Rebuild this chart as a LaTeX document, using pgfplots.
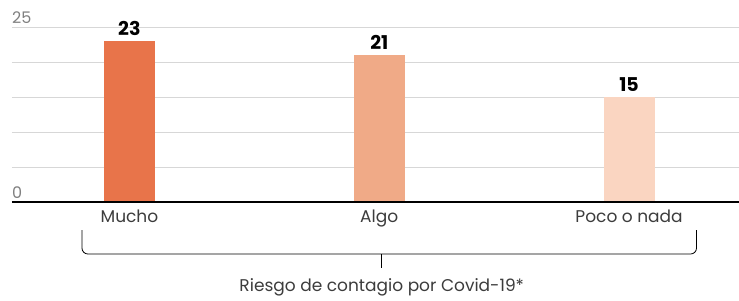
\documentclass[border=0pt]{standalone}
\usepackage{pgfplots}
\pgfplotsset{compat=1.18}
\usepackage{fontspec}
\setmainfont{Poppins}
\definecolor{c1}{RGB}{232,116,74}
\definecolor{c2}{RGB}{240,170,135}
\definecolor{c3}{RGB}{250,213,193}
\definecolor{gridc}{RGB}{215,215,215}
\definecolor{txt}{RGB}{60,60,60}
\begin{document}
\begin{tikzpicture}
\useasboundingbox (0,0) rectangle (739pt,300pt);
\begin{axis}[
  at={(12pt,98pt)}, anchor=south west,
  scale only axis, width=727pt, height=175pt,
  xmin=-0.47, xmax=2.44, ymin=0, ymax=25,
  axis line style={draw=none},
  /pgf/number format/assume math mode=true,
  ytick={0,5,10,15,20,25}, yticklabels={},
  ymajorgrids, grid style={gridc, line width=0.8pt},
  major tick length=0pt,
  xtick={0,1,2}, xticklabels={Mucho,Algo,Poco o nada},
  xticklabel style={font=\fontsize{17}{17}\selectfont, text=txt, yshift=-4pt},
  clip=false,
  nodes near coords,
  every node near coord/.append style={font=\bfseries\fontsize{19}{19}\selectfont, text=black, anchor=south, yshift=2pt},
]
\addplot[ybar, bar width=51pt, fill=c1, draw=none] coordinates {(0,23)};
\addplot[ybar, bar width=51pt, fill=c2, draw=none] coordinates {(1,21)};
\addplot[ybar, bar width=51pt, fill=c3, draw=none] coordinates {(2,15)};
\draw[black, line width=2pt] (axis cs:-0.47,0) -- (axis cs:2.44,0);
\node[anchor=south west, inner sep=0pt, font=\fontsize{16}{16}\selectfont, text=gray] at (axis cs:-0.47,25.4) {25};
\node[anchor=south west, inner sep=0pt, font=\fontsize{16}{16}\selectfont, text=gray] at (axis cs:-0.47,0.5) {0};
\draw[black, line width=0.8pt, rounded corners=6pt] (axis cs:-0.19,-4) -- (axis cs:-0.19,-7.43) -- (axis cs:2.27,-7.43) -- (axis cs:2.27,-4);
\draw[black, line width=0.8pt] (axis cs:1.01,-7.43) -- (axis cs:1.01,-9.4);
\node[font=\fontsize{17}{17}\selectfont, text=txt] at (axis cs:1.01,-12.2) {Riesgo de contagio por Covid-19*};
\end{axis}
\end{tikzpicture}
\end{document}
